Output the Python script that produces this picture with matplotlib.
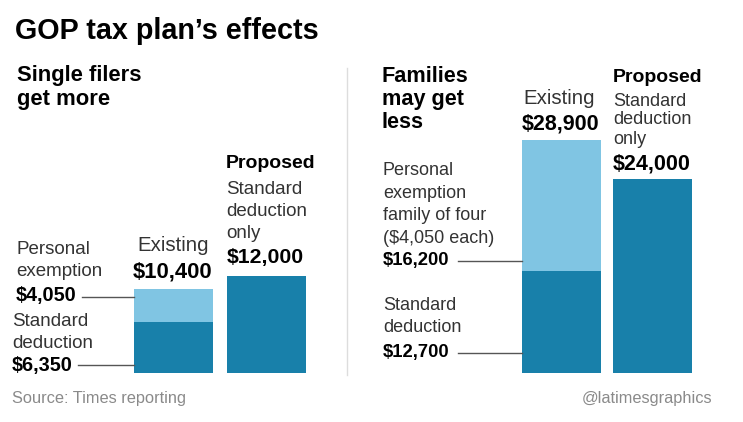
import matplotlib.pyplot as plt

W, H = 743, 422

single_labels = ["Existing", "Proposed"]
single_std = [6350, 12000]
single_exempt = [4050, 0]
single_totals = ["$10,400", "$12,000"]

family_labels = ["Existing", "Proposed"]
family_std = [12700, 24000]
family_exempt = [16200, 0]
family_totals = ["$28,900", "$24,000"]

light = "#80c5e3"
dark = "#1880aa"
ink = "#333333"
gray = "#8a8a8a"

plt.rcParams['font.family'] = ['Liberation Sans', 'DejaVu Sans']

fig = plt.figure(figsize=(W / 100, H / 100), dpi=100)


def fx(x):
    return x / W


def fy(y):
    return 1 - y / H


def txt(x, y, s, size=13, bold=False, color=ink, ha='left'):
    fig.text(fx(x), fy(y), s, fontsize=size, fontweight='bold' if bold else 'normal',
             color=color, ha=ha, va='center')


def hline(x0, x1, y):
    fig.add_artist(plt.Line2D([fx(x0), fx(x1)], [fy(y), fy(y)], color='#555555', lw=1))


# same dollar scale on both panels: ~0.00807 px per dollar
ymax = 30000
ax_h = ymax * 0.00807
base = 373


def panel(x0, x1, w, std, exempt):
    ax = fig.add_axes([fx(x0), fy(base), (x1 - x0) / W, ax_h / H])
    pos = range(len(std))
    ax.bar(pos, std, width=w, color=dark)
    ax.bar(pos, exempt, width=w, bottom=std, color=light)
    ax.set_xlim(-w / 2, len(std) - 1 + w / 2)
    ax.set_ylim(0, ymax)
    ax.axis('off')
    return ax


panel(134, 306, 0.84, single_std, single_exempt)
panel(522, 692, 0.87, family_std, family_exempt)

# header
txt(15, 31, "GOP tax plan\u2019s effects", size=20.7, bold=True, color='black')
fig.add_artist(plt.Line2D([fx(347), fx(347)], [fy(68), fy(375)], color='#dddddd', lw=1))

# left panel
txt(17, 76, "Single filers", size=15.8, bold=True, color='black')
txt(17, 100, "get more", size=15.8, bold=True, color='black')

txt(16, 249, "Personal", size=13.5)
txt(16, 272, "exemption", size=13.5)
txt(16, 296, "$4,050", size=14.3, bold=True, color='black')
hline(82, 134, 297)
txt(12, 321, "Standard", size=13.5)
txt(12, 344, "deduction", size=13.5)
txt(12, 366, "$6,350", size=14.3, bold=True, color='black')
hline(78, 134, 365)

txt(173, 245, single_labels[0], size=14.7, ha='center')
txt(173, 272, single_totals[0], size=15.8, bold=True, color='black', ha='center')

txt(226, 163, single_labels[1], size=14, bold=True, color='black')
txt(226, 190, "Standard", size=13.5)
txt(226, 212, "deduction", size=13.5)
txt(226, 233, "only", size=13.5)
txt(227, 258, single_totals[1], size=15.3, bold=True, color='black')

# right panel
txt(382, 76, "Families", size=15.6, bold=True, color='black')
txt(382, 99, "may get", size=15.6, bold=True, color='black')
txt(382, 122, "less", size=15.6, bold=True, color='black')

txt(559, 99, family_labels[0], size=14.7, ha='center')
txt(561, 124, family_totals[0], size=15.5, bold=True, color='black', ha='center')

txt(613, 77, family_labels[1], size=14, bold=True, color='black')
txt(613, 101, "Standard")
txt(613, 120, "deduction")
txt(613, 139, "only")
txt(613, 164, family_totals[1], size=15.5, bold=True, color='black')

txt(383, 170, "Personal")
txt(383, 193, "exemption")
txt(383, 216, "family of four")
txt(383, 238, "($4,050 each)")
txt(383, 261, "$16,200", size=13.3, bold=True, color='black')
hline(458, 522, 261)
txt(383, 305, "Standard")
txt(383, 328, "deduction")
txt(383, 352, "$12,700", size=13.3, bold=True, color='black')
hline(458, 522, 353)

# footer
txt(12, 398, "Source: Times reporting", size=11.8, color=gray)
txt(712, 398, "@latimesgraphics", size=11.8, color=gray, ha='right')

fig.savefig("out.png", dpi=100)
